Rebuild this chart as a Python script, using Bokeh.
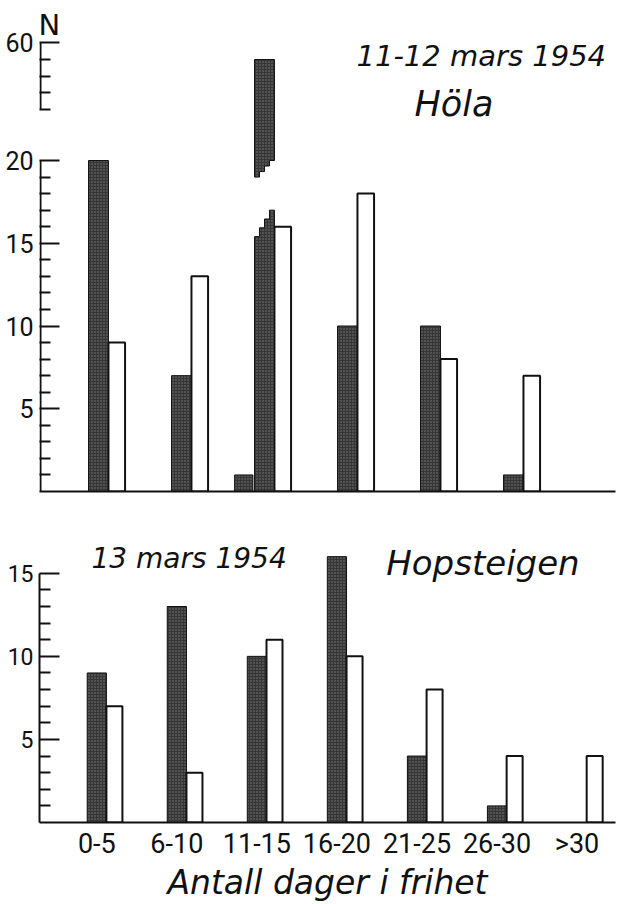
from bokeh.plotting import figure
from bokeh.layouts import column
from bokeh.models import Range1d, FixedTicker, Label
from bokeh.embed import file_html
from bokeh.resources import INLINE

# ---------------- data ----------------
categories = ["0-5", "6-10", "11-15", "16-20", "21-25", "26-30", ">30"]

hola_dark = [20, 7, 59, 10, 10, 1, 0]
hola_dark_extra = [0, 0, 1, 0, 0, 0, 0]
hola_white = [9, 13, 16, 18, 8, 7, 0]

hop_dark = [9, 13, 10, 16, 4, 1, 0]
hop_white = [7, 3, 11, 10, 8, 4, 4]

top_major_ticks = [5, 10, 15, 20]
top_upper_ticks = [56, 57, 58, 59, 60]
bottom_major_ticks = [5, 10, 15]

# ---------------- style ----------------
TITLE_FONT = "DejaVu Sans"
NUM_FONT = "Roboto"
INK = "#111111"
DARK = "#363636"

W = 630
TOP_H = 520
BOT_H = 384
LABEL_DY = 9   # text placement correction (px)

DW = 0.24      # dark bar width (category units)
WW = 0.20      # white bar width
WOFF = 0.22    # white bar offset from dark centre
EXOFF = -0.25  # extra small dark bar offset
EXW = 0.22

# ---------------- top panel geometry ----------------
T_LEFT, T_RIGHT, T_BOTTOM = 39, 15, 29
T_FW = W - T_LEFT - T_RIGHT
T_FH = TOP_H - T_BOTTOM
T_PX = 83.0
T_PY = 16.55
t_x0 = -(98 - T_LEFT) / T_PX
T_AXMAX = 20
upper_off = 32.9          # upper (broken) scale: value - upper_off = lower-scale position
BREAK_LO = 17.0
BREAK_HI = 52.4


def tx(px):
    return t_x0 + (px - T_LEFT) / T_PX


def ty(py):
    return (T_FH - py + LABEL_DY) / T_PY


p1 = figure(width=W, height=TOP_H,
            x_range=Range1d(t_x0, t_x0 + T_FW / T_PX),
            y_range=Range1d(0, T_FH / T_PY),
            output_backend="svg", toolbar_location=None,
            min_border_left=T_LEFT, min_border_right=T_RIGHT,
            min_border_top=0, min_border_bottom=T_BOTTOM)
p1.extra_y_ranges = {"upper": Range1d(upper_off, upper_off + T_FH / T_PY)}

# ---------------- bottom panel geometry ----------------
B_LEFT = 32
B_FH = 303
B_BOTTOM = BOT_H - B_FH
B_PX = 83.1
B_PY = 16.67
b_x0 = -(91.5 - B_LEFT) / B_PX


def bx(px):
    return b_x0 + (px - B_LEFT) / B_PX


def by(py):
    return (TOP_H + B_FH - py + LABEL_DY) / B_PY


p2 = figure(width=W, height=BOT_H,
            x_range=Range1d(b_x0, b_x0 + (W - B_LEFT) / B_PX),
            y_range=Range1d(0, B_FH / B_PY),
            output_backend="svg", toolbar_location=None,
            min_border_left=B_LEFT, min_border_right=0,
            min_border_top=0, min_border_bottom=B_BOTTOM)

for p in (p1, p2):
    p.xgrid.visible = False
    p.ygrid.visible = False
    p.outline_line_color = None
    p.background_fill_color = "white"
    p.border_fill_color = "white"


def style_yaxis(ax, majors, minors, top, size, standoff):
    ax.ticker = FixedTicker(ticks=majors, minor_ticks=minors)
    ax.bounds = (0, top)
    ax.axis_line_width = 2
    ax.axis_line_color = INK
    ax.major_tick_in = 20
    ax.major_tick_out = 0
    ax.minor_tick_in = 11
    ax.minor_tick_out = 0
    ax.major_tick_line_width = 2
    ax.minor_tick_line_width = 2
    ax.major_tick_line_color = INK
    ax.minor_tick_line_color = INK
    ax.major_label_text_font = NUM_FONT
    ax.major_label_text_font_size = size
    ax.major_label_text_color = INK
    ax.major_label_standoff = standoff


# top y axis: lower scale 0-20 plus the broken upper part 56-60
upper_pos = [t - upper_off for t in top_upper_ticks]
top_pos = upper_pos[-1]
top_majors = top_major_ticks + [top_pos]
top_minors = [v for v in range(1, T_AXMAX) if v not in top_major_ticks] + upper_pos[:-1]
style_yaxis(p1.yaxis[0], top_majors, top_minors, top_pos, "25px", 6)
p1.yaxis.major_label_overrides = {top_pos: str(top_upper_ticks[-1])}
p1.yaxis.axis_line_color = None
ax_x = t_x0 + 1 / T_PX
p1.segment(x0=[ax_x, ax_x], y0=[0, upper_pos[0]], x1=[ax_x, ax_x], y1=[T_AXMAX, top_pos],
           line_color=INK, line_width=2)

bottom_minors = [v for v in range(1, 15) if v not in bottom_major_ticks]
style_yaxis(p2.yaxis[0], bottom_major_ticks, bottom_minors, 15, "23px", 6)

ax = p1.xaxis[0]
ax.ticker = FixedTicker(ticks=[])
ax.major_label_text_font_size = "0px"
ax.major_label_standoff = 0
ax.major_tick_out = 0
ax.minor_tick_out = 0
ax.major_tick_line_color = None
ax.minor_tick_line_color = None
ax.axis_line_width = 2
ax.axis_line_color = INK

ax = p2.xaxis[0]
ax.ticker = FixedTicker(ticks=list(range(len(categories))))
ax.major_label_overrides = {i: c for i, c in enumerate(categories)}
ax.major_label_text_font = NUM_FONT
ax.major_label_text_font_size = "27px"
ax.major_label_text_color = INK
ax.major_label_standoff = 5
ax.major_tick_out = 0
ax.minor_tick_out = 0
ax.major_tick_line_color = None
ax.minor_tick_line_color = None
ax.axis_line_width = 2
ax.axis_line_color = INK
ax.axis_label = "Antall dager i frihet"
ax.axis_label_text_font = TITLE_FONT
ax.axis_label_text_font_style = "italic"
ax.axis_label_text_font_size = "33px"
ax.axis_label_text_color = INK
ax.axis_label_standoff = 0

dark_kw = dict(fill_color=DARK, line_color=INK, line_width=1,
               hatch_pattern="dot", hatch_color="white", hatch_alpha=0.35, hatch_scale=3)
white_kw = dict(fill_color="white", line_color=INK, line_width=2)

# ---------------- top bars ----------------
xs = list(range(len(categories)))
d_x = [x for x, v in zip(xs, hola_dark) if 0 < v <= T_AXMAX]
d_t = [v for v in hola_dark if 0 < v <= T_AXMAX]
p1.vbar(x=d_x, top=d_t, bottom=0, width=DW, **dark_kw)
e_x = [x + EXOFF for x, v in zip(xs, hola_dark_extra) if v > 0]
e_t = [v for v in hola_dark_extra if v > 0]
p1.vbar(x=e_x, top=e_t, bottom=0, width=EXW, **dark_kw)
w_x = [x + WOFF for x, v in zip(xs, hola_white) if v > 0]
w_t = [v for v in hola_white if v > 0]
p1.vbar(x=w_x, top=w_t, bottom=0, width=WW, **white_kw)

# broken bars (values above the lower scale)
for x, v in zip(xs, hola_dark):
    if v > T_AXMAX:
        xl, xr = x - DW / 2, x + DW / 2
        n = 4
        hs = [BREAK_LO - 1.6 + 1.6 * k / (n - 1) for k in range(n)]
        px_, py_ = [xl], [0]
        for k in range(n):
            px_ += [xl + DW * k / n, xl + DW * (k + 1) / n]
            py_ += [hs[k], hs[k]]
        px_ += [xr]
        py_ += [0]
        p1.patch(px_, py_, **dark_kw)
        lo = [BREAK_HI - 0.5 + 1.0 * k / (n - 1) for k in range(n)]
        ux, uy = [xl, xr], [v, v]
        for k in reversed(range(n)):
            ux += [xl + DW * (k + 1) / n, xl + DW * k / n]
            uy += [lo[k], lo[k]]
        p1.patch(ux, uy, y_range_name="upper", **dark_kw)

p1.add_layout(Label(x=tx(38), y=ty(33), text="N", text_font=TITLE_FONT,
                    text_font_size="29px", text_align="left", text_baseline="alphabetic",
                    text_color=INK))
p1.add_layout(Label(x=tx(356), y=ty(64), text="11-12 mars 1954", text_font=TITLE_FONT,
                    text_font_style="italic", text_font_size="29px", text_color=INK,
                    text_baseline="alphabetic"))
p1.add_layout(Label(x=tx(414), y=ty(112), text="Höla", text_font=TITLE_FONT,
                    text_font_style="italic", text_font_size="35px", text_color=INK,
                    text_baseline="alphabetic"))

# ---------------- bottom bars ----------------
d_x = [x for x, v in zip(xs, hop_dark) if v > 0]
d_t = [v for v in hop_dark if v > 0]
p2.vbar(x=d_x, top=d_t, bottom=0, width=DW, **dark_kw)
w_x = [x + WOFF for x, v in zip(xs, hop_white) if v > 0]
w_t = [v for v in hop_white if v > 0]
p2.vbar(x=w_x, top=w_t, bottom=0, width=WW, **white_kw)

p2.add_layout(Label(x=bx(86), y=by(567), text="13 mars 1954", text_font=TITLE_FONT,
                    text_font_style="italic", text_font_size="28px", text_color=INK,
                    text_baseline="alphabetic"))
p2.add_layout(Label(x=bx(392), y=by(572), text="Hopsteigen", text_font=TITLE_FONT,
                    text_font_style="italic", text_font_size="34px", text_color=INK,
                    text_baseline="alphabetic"))

layout = column(p1, p2, spacing=0)
open("out.html", "w").write(file_html(layout, INLINE))
